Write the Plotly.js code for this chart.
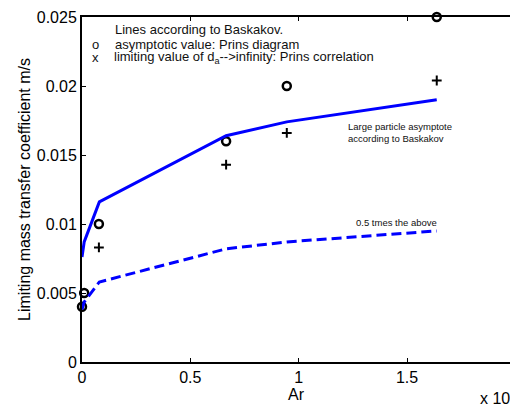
<!DOCTYPE html>
<html>
<head>
<meta charset="utf-8">
<script src="https://cdn.plot.ly/plotly-3.0.1.min.js"></script>
<style>html,body{margin:0;padding:0;background:#fff}</style>
</head>
<body>
<div id="chart" style="width:510px;height:407px"></div>
<script>
// Baskakov large-particle asymptote (solid) and half of it (dashed)
const arBaskakov = [0, 0.01, 0.08, 0.665, 0.945, 1.637];
const kBaskakov = [0.0076, 0.0087, 0.0116, 0.0164, 0.0174, 0.019];
const kBaskakovHalf = [0.0038, 0.00435, 0.0058, 0.0082, 0.0087, 0.0095];

// Asymptotic values (o)
const arPrinsDiagram = [0, 0.01, 0.078, 0.665, 0.945, 1.637];
const kPrinsDiagram = [0.004, 0.005, 0.01, 0.016, 0.02, 0.025];

// Limiting values for d_a -> infinity from the Prins correlation (+)
const arPrinsCorr = [0.078, 0.665, 0.945, 1.637];
const kPrinsCorr = [0.0083, 0.0143, 0.0166, 0.0204];

const xTickVals = [0, 0.5, 1, 1.5];
const xTickText = ['0', '0.5', '1', '1.5'];
const yTickVals = [0, 0.005, 0.01, 0.015, 0.02, 0.025];
const yTickText = ['0', '0.005', '0.01', '0.015', '0.02', '0.025'];

const FONT = 'Liberation Sans, Arial, sans-serif';

const traces = [
  {
    x: arPrinsDiagram, y: kPrinsDiagram, mode: 'markers', type: 'scatter',
    cliponaxis: false,
    marker: {symbol: 'circle-open', size: 8, color: '#000', line: {width: 2.5, color: '#000'}}
  },
  {
    x: arPrinsCorr, y: kPrinsCorr, mode: 'markers', type: 'scatter',
    cliponaxis: false,
    marker: {symbol: 'cross-thin-open', size: 7, color: '#000', line: {width: 2, color: '#000'}}
  },
  {
    x: arBaskakov, y: kBaskakov, mode: 'lines', type: 'scatter',
    line: {color: '#0000ff', width: 3}
  },
  {
    x: arBaskakov, y: kBaskakovHalf, mode: 'lines', type: 'scatter',
    line: {color: '#0000ff', width: 3, dash: '10px,5px'}
  }
];

function note(text, x, y, size, anchor) {
  return {
    text: text, x: x, y: y, xref: 'x', yref: 'y',
    xanchor: anchor || 'left', yanchor: 'middle', align: 'left', showarrow: false,
    font: {family: FONT, size: size, color: '#111'}
  };
}

const layout = {
  width: 510, height: 407,
  margin: {l: 82, r: 0, t: 17, b: 45, pad: 0},
  paper_bgcolor: '#fff', plot_bgcolor: '#fff',
  showlegend: false,
  font: {family: FONT, color: '#000', size: 16},
  xaxis: {
    range: [0, 1.975], tickvals: xTickVals, ticktext: xTickText,
    showgrid: false, zeroline: false,
    showline: true, linecolor: '#000', linewidth: 2, mirror: 'ticks',
    ticks: 'inside', ticklen: 4, tickwidth: 1, tickcolor: '#000',
    tickfont: {family: FONT, size: 16, color: '#000'},
    title: {text: 'Ar', font: {family: FONT, size: 16, color: '#000'}, standoff: 1}
  },
  yaxis: {
    range: [0, 0.025], tickvals: yTickVals, ticktext: yTickText,
    showgrid: false, zeroline: false,
    showline: true, linecolor: '#000', linewidth: 2, mirror: false,
    ticks: 'inside', ticklen: 4, tickwidth: 1, tickcolor: '#000',
    tickfont: {family: FONT, size: 16, color: '#000'},
    title: {text: 'Limiting mass transfer coefficient m/s', font: {family: FONT, size: 16, color: '#000'}, standoff: 2}
  },
  annotations: [
    note('Lines according to Baskakov.', 0.143, 0.0241, 13),
    note('o', 0.06, 0.02304, 13, 'center'),
    note('asymptotic value: Prins diagram', 0.143, 0.02304, 13),
    note('x', 0.06, 0.0221, 13, 'center'),
    note('limiting value of d<sub>a</sub>-->infinity: Prins correlation', 0.139, 0.0221, 13),
    note('Large particle asymptote<br>according to Baskakov', 1.218, 0.01665, 9.5),
    note('0.5 tmes the above', 1.255, 0.01013, 9.5),
    {
      text: 'x 10', xref: 'paper', yref: 'paper', x: 0.926, y: -0.106,
      xanchor: 'left', yanchor: 'middle', showarrow: false,
      font: {family: FONT, size: 16, color: '#000'}
    }
  ]
};

Plotly.newPlot('chart', traces, layout, {displayModeBar: false, staticPlot: true});
</script>
</body>
</html>
